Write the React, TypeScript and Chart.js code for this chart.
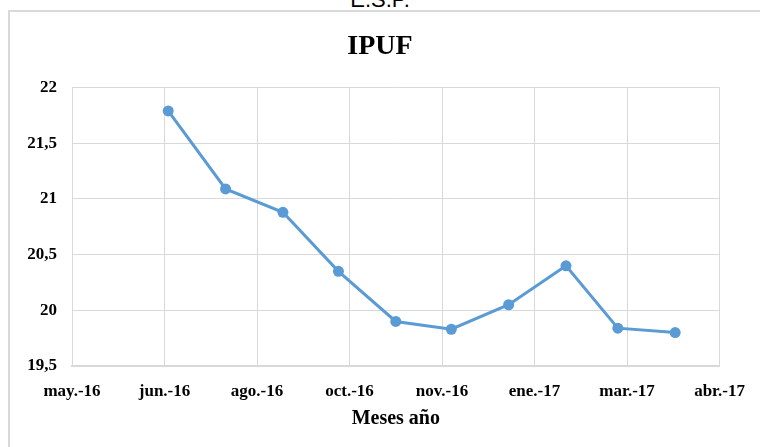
import React, { useEffect, useRef } from "react";
import { Chart, registerables } from "chart.js";

Chart.register(...registerables);

// ---- Data ----
const pointDates = [
  "2016-06-30", "2016-07-31", "2016-08-31", "2016-09-30", "2016-10-31",
  "2016-11-30", "2016-12-31", "2017-01-31", "2017-02-28", "2017-03-31",
];
const ipufValues = [21.79, 21.09, 20.88, 20.35, 19.9, 19.83, 20.05, 20.4, 19.84, 19.8];
const tickLabels = ["may.-16", "jun.-16", "ago.-16", "oct.-16", "nov.-16", "ene.-17", "mar.-17", "abr.-17"];
const axisStartDate = "2016-05-09";
const tickStepDays = 50;
const yMin = 19.5;
const yMax = 22;
const yStep = 0.5;
const chartTitle = "IPUF";
const xAxisTitle = "Meses año";
const headerText = "E.S.P.";

const dayNumber = (iso: string) => Date.parse(iso + "T00:00:00Z") / 86400000;

export default function App() {
  const canvasRef = useRef<HTMLCanvasElement | null>(null);

  useEffect(() => {
    if (!canvasRef.current) return;
    const start = dayNumber(axisStartDate);
    const tickValues = tickLabels.map((_, i) => start + i * tickStepDays);
    const serif = "'Liberation Serif', 'Times New Roman', serif";
    const grid = "#d9d9d9";
    const blue = "#5b9bd5";

    const chart = new Chart(canvasRef.current, {
      type: "line",
      data: {
        datasets: [
          {
            label: chartTitle,
            data: pointDates.map((d, i) => ({ x: dayNumber(d), y: ipufValues[i] })),
            borderColor: blue,
            backgroundColor: blue,
            borderWidth: 3,
            pointRadius: 5.5,
            pointBackgroundColor: blue,
            pointBorderColor: blue,
            pointBorderWidth: 0,
            tension: 0,
          },
        ],
      },
      options: {
        animation: false,
        responsive: false,
        maintainAspectRatio: false,
        layout: { padding: { left: 0, right: 0, top: 0, bottom: 16 } },
        plugins: {
          legend: { display: false },
          tooltip: { enabled: false },
          title: {
            display: true,
            text: chartTitle,
            color: "#000",
            font: { family: serif, size: 28, weight: "bold" },
            padding: { top: 30, bottom: 24 },
          },
        },
        scales: {
          x: {
            type: "linear",
            min: tickValues[0],
            max: tickValues[tickValues.length - 1],
            afterBuildTicks: (scale: any) => {
              scale.ticks = tickValues.map((v) => ({ value: v }));
            },
            afterFit: (scale: any) => {
              scale.height = 65;
            },
            grid: { color: grid, lineWidth: 1, drawTicks: false },
            border: { color: grid, width: 2 },
            ticks: {
              color: "#000",
              padding: 15,
              maxRotation: 0,
              autoSkip: false,
              font: { family: serif, size: 17, weight: "bold" },
              callback: (_v: any, index: number) => tickLabels[index],
            },
            title: {
              display: true,
              text: xAxisTitle,
              color: "#000",
              font: { family: serif, size: 20, weight: "bold" },
              padding: 0,
            },
          },
          y: {
            min: yMin,
            max: yMax,
            afterFit: (scale: any) => {
              scale.width = 72;
            },
            grid: { color: grid, lineWidth: 1, drawTicks: false },
            border: { color: grid, width: 1 },
            ticks: {
              stepSize: yStep,
              color: "#000",
              padding: 15,
              font: { family: serif, size: 17, weight: "bold" },
              callback: (v: any) => String(v).replace(".", ","),
            },
          },
          yRightSpace: {
            position: "right",
            display: true,
            afterFit: (scale: any) => {
              scale.width = 40;
            },
            grid: { display: false, drawOnChartArea: false, drawTicks: false },
            border: { display: false },
            ticks: { display: false },
          },
        },
      },
    });
    return () => chart.destroy();
  }, []);

  return (
    <div style={{ position: "fixed", left: 0, top: 0, width: 760, height: 447, overflow: "hidden", background: "#fff" }}>
      <div
        style={{
          position: "absolute",
          left: 0,
          width: 760,
          top: -11,
          textAlign: "center",
          fontFamily: "'Liberation Sans', Arial, sans-serif",
          fontSize: 22,
          lineHeight: "22px",
          color: "#000",
        }}
      >
        {headerText}
      </div>
      <div
        style={{
          position: "absolute",
          left: 8,
          top: 10,
          width: 800,
          height: 500,
          border: "2px solid #d9d9d9",
          boxSizing: "border-box",
        }}
      />
      <canvas ref={canvasRef} width={760} height={447} style={{ position: "absolute", left: 0, top: 0 }} />
    </div>
  );
}
